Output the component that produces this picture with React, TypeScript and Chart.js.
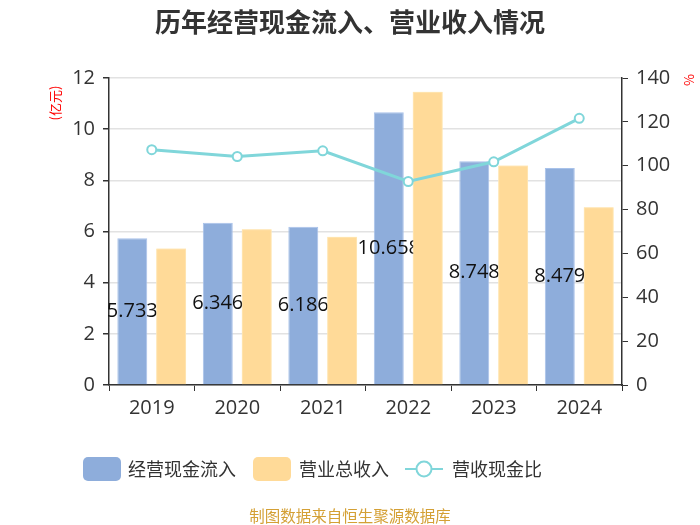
import React, { useEffect, useRef } from "react";
import { Chart, registerables } from "chart.js";

Chart.register(...registerables);

const categories = ["2019", "2020", "2021", "2022", "2023", "2024"];
const cashInflow = [5.733, 6.346, 6.186, 10.658, 8.748, 8.479];
const revenue = [5.34, 6.09, 5.79, 11.46, 8.58, 6.95];
const cashRatio = [107.3, 104.2, 106.8, 92.8, 101.8, 121.6];
const seriesNames = ["经营现金流入", "营业总收入", "营收现金比"];
const titleText = "历年经营现金流入、营业收入情况";
const footerText = "制图数据来自恒生聚源数据库";

const BLUE = "rgb(142,173,219)";
const BLUE_EDGE = "rgb(168,194,234)";
const ORANGE = "rgb(255,218,152)";
const ORANGE_EDGE = "rgb(255,230,180)";
const TEAL = "rgb(128,214,218)";
const CJK = '"Noto Sans CJK SC", sans-serif';
const NUM = '"Open Sans", "Noto Sans CJK SC", sans-serif';

const decorPlugin = {
  id: "decor",
  afterDatasetDraw(chart: any, args: any) {
    if (args.index !== 0) return;
    const ctx = chart.ctx;
    const meta = chart.getDatasetMeta(0);
    ctx.save();
    ctx.font = `20px ${NUM}`;
    ctx.fillStyle = "#111";
    ctx.textAlign = "center";
    ctx.textBaseline = "middle";
    meta.data.forEach((bar: any, i: number) => {
      const y = (bar.y + bar.base) / 2;
      ctx.fillText(String(cashInflow[i]), bar.x, y);
    });
    ctx.restore();
    // revenue bars sit above the labels
    chart.getDatasetMeta(1).data.forEach((el: any) => el.draw(ctx, chart.chartArea));
  },
  afterDraw(chart: any) {
    const ctx = chart.ctx;
    ctx.save();
    ctx.font = `bold 26px ${CJK}`;
    ctx.fillStyle = "#333";
    ctx.textAlign = "center";
    ctx.textBaseline = "middle";
    ctx.fillText(titleText, 350, 22);
    ctx.fillStyle = "#f00";
    ctx.font = `13px ${CJK}`;
    ctx.save();
    ctx.translate(55, 103);
    ctx.rotate(-Math.PI / 2);
    ctx.fillText("(亿元)", 0, 0);
    ctx.restore();
    ctx.save();
    ctx.translate(689, 80);
    ctx.rotate(-Math.PI / 2);
    ctx.fillText("%", 0, 0);
    ctx.restore();
    const ly = 469;
    ctx.font = `18px ${CJK}`;
    ctx.textAlign = "left";
    const box = (x: number, color: string) => {
      ctx.beginPath();
      (ctx as any).roundRect(x, ly - 12, 38, 24, 5);
      ctx.fillStyle = color;
      ctx.fill();
    };
    box(83, BLUE);
    ctx.fillStyle = "#333";
    ctx.fillText(seriesNames[0], 128, ly);
    box(253, ORANGE);
    ctx.fillStyle = "#333";
    ctx.fillText(seriesNames[1], 299, ly);
    ctx.strokeStyle = TEAL;
    ctx.lineWidth = 2;
    ctx.beginPath();
    ctx.moveTo(405, ly);
    ctx.lineTo(443, ly);
    ctx.stroke();
    ctx.beginPath();
    ctx.arc(424, ly, 7.5, 0, Math.PI * 2);
    ctx.fillStyle = "#fff";
    ctx.fill();
    ctx.stroke();
    ctx.fillStyle = "#333";
    ctx.fillText(seriesNames[2], 452, ly);
    ctx.font = `15.5px ${CJK}`;
    ctx.fillStyle = "#D4A035";
    ctx.textAlign = "center";
    ctx.fillText(footerText, 350, 516);
    ctx.restore();
  },
};

export default function App() {
  const ref = useRef<HTMLCanvasElement>(null);
  useEffect(() => {
    document.body.style.margin = "0";
    const chart = new Chart(ref.current as HTMLCanvasElement, {
      type: "bar",
      data: {
        labels: categories,
        datasets: [
          {
            type: "bar",
            label: seriesNames[0],
            data: cashInflow,
            backgroundColor: BLUE,
            borderColor: BLUE_EDGE,
            borderWidth: 1,
            yAxisID: "y",
            order: 2,
            categoryPercentage: 0.91,
            barPercentage: 0.77,
          },
          {
            type: "bar",
            label: seriesNames[1],
            data: revenue,
            backgroundColor: ORANGE,
            borderColor: ORANGE_EDGE,
            borderWidth: 1,
            yAxisID: "y",
            order: 2,
            categoryPercentage: 0.91,
            barPercentage: 0.77,
          },
          {
            type: "line",
            label: seriesNames[2],
            data: cashRatio,
            borderColor: TEAL,
            borderWidth: 3,
            pointRadius: 4.5,
            pointBorderWidth: 2,
            pointBackgroundColor: "#fff",
            pointBorderColor: TEAL,
            yAxisID: "y1",
            order: 1,
            tension: 0,
          } as any,
        ],
      },
      options: {
        responsive: false,
        animation: false,
        devicePixelRatio: 1,
        layout: { padding: { top: 78, left: 0, right: 0, bottom: 0 } },
        plugins: { legend: { display: false }, tooltip: { enabled: false }, title: { display: false } },
        scales: {
          x: {
            offset: true,
            grid: { drawOnChartArea: false, tickColor: "#333", tickLength: 6, offset: true },
            border: { color: "#333", width: 1.5 },
            ticks: { color: "#333", font: { size: 20, family: NUM }, padding: 5 },
            afterFit: (s: any) => { s.height = 140; },
          },
          y: {
            position: "left",
            min: 0,
            max: 12,
            ticks: { stepSize: 2, color: "#333", font: { size: 20, family: NUM }, padding: 8 },
            grid: { color: "#e2e2e2", lineWidth: 1.5, tickColor: "#333", tickLength: 6 },
            border: { color: "#333", width: 1.5 },
            afterFit: (s: any) => { s.width = 109; },
          },
          y1: {
            position: "right",
            min: 0,
            max: 140,
            ticks: { stepSize: 20, color: "#333", font: { size: 20, family: NUM }, padding: 8 },
            grid: { drawOnChartArea: false, tickColor: "#333", tickLength: 6 },
            border: { color: "#333", width: 1.5 },
            afterFit: (s: any) => { s.width = 78; },
          },
        },
      } as any,
      plugins: [decorPlugin],
    });
    return () => chart.destroy();
  }, []);
  return (
    <div style={{ position: "absolute", left: 0, top: 0, width: 700, height: 525, background: "#fff" }}>
      <canvas ref={ref} width={700} height={525} />
    </div>
  );
}
